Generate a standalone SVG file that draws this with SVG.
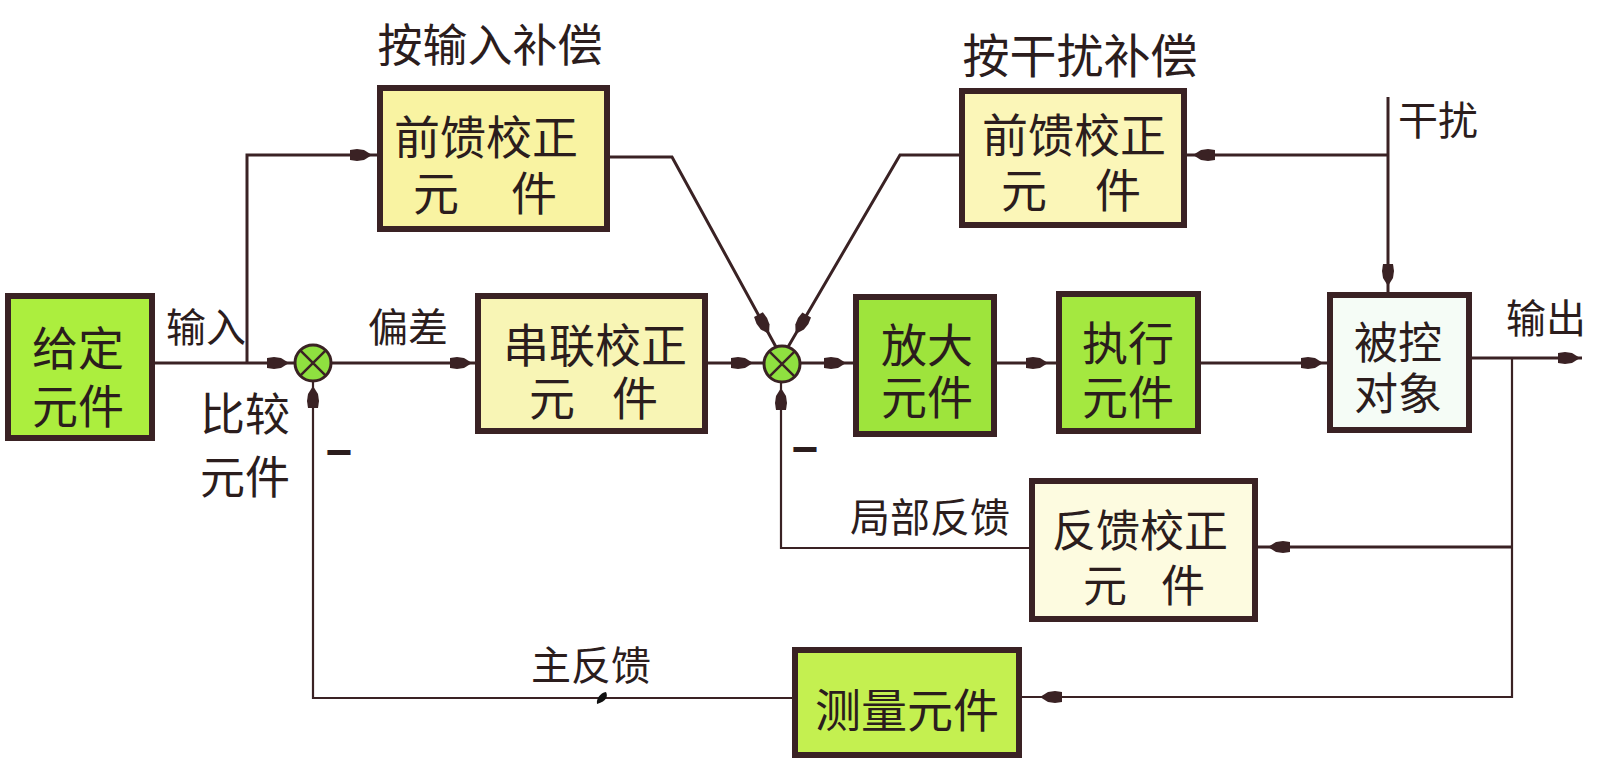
<svg xmlns="http://www.w3.org/2000/svg" xmlns:xlink="http://www.w3.org/1999/xlink" width="1600" height="770" viewBox="0 0 1600 770">
<defs>
<style>
.box{stroke:#3a2224;stroke-width:6}
.t{font-family:"Noto Sans CJK SC","Noto Sans CJK TC",sans-serif;fill:#2b1d1d}
.b{font-size:46px}
.l{font-size:40px}
.ln{fill:none;stroke:#3a2224;stroke-width:3}
.thin{fill:none;stroke:#3a2224;stroke-width:2.2}
.ah{fill:#3a2224}
.minus{font-family:"Liberation Sans",sans-serif;font-weight:bold;font-size:46px;fill:#2b1d1d}
</style>
<path id="ah" class="ah" d="M0,0 L-8,-5 L-15,-6 L-22,-5 L-22,5 L-15,6 L-8,5 Z"/>
<g id="sum">
<circle r="18" fill="#8fe040" stroke="#3a2224" stroke-width="3"/>
<path d="M-12.7,-12.7 L12.7,12.7 M12.7,-12.7 L-12.7,12.7" stroke="#3a2224" stroke-width="2.5"/>
</g>
</defs>
<rect width="1600" height="770" fill="#ffffff"/>

<g id="connectors">
<path class="ln" d="M155,363 H295"/>
<use xlink:href="#ah" transform="translate(289,363)"/>
<path class="ln" d="M247,363 V155 H377"/>
<use xlink:href="#ah" transform="translate(372,155)"/>
<path class="ln" d="M331,363 H475"/>
<use xlink:href="#ah" transform="translate(472,363)"/>
<path class="ln" d="M610,157 H672 L776,347"/>
<use xlink:href="#ah" transform="translate(769,334) rotate(61.3)"/>
<path class="ln" d="M959,155 H900 L788,347"/>
<use xlink:href="#ah" transform="translate(795.6,334) rotate(120.3)"/>
<path class="ln" d="M708,363 H764"/>
<use xlink:href="#ah" transform="translate(753,363)"/>
<path class="ln" d="M800,363 H853"/>
<use xlink:href="#ah" transform="translate(846,363)"/>
<path class="ln" d="M997,363 H1056"/>
<use xlink:href="#ah" transform="translate(1048,363)"/>
<path class="ln" d="M1201,363 H1328"/>
<use xlink:href="#ah" transform="translate(1323,363)"/>
<path class="ln" d="M1472,358 H1582"/>
<use xlink:href="#ah" transform="translate(1580,358)"/>
<path class="thin" d="M1512,358 V697 H1022"/>
<use xlink:href="#ah" transform="translate(1040,697) rotate(180)"/>
<path class="ln" d="M1512,547 H1257"/>
<use xlink:href="#ah" transform="translate(1268,547) rotate(180)"/>
<path class="thin" d="M792,698 H313 V381"/>
<use xlink:href="#ah" transform="translate(313,386) rotate(-90)"/>
<path class="thin" d="M1029,548 H781 V382"/>
<use xlink:href="#ah" transform="translate(781,388) rotate(-90)"/>
<path class="ln" d="M1388,97 V292"/>
<use xlink:href="#ah" transform="translate(1388,286) rotate(90)"/>
<path class="ln" d="M1388,155 H1187"/>
<use xlink:href="#ah" transform="translate(1193,155) rotate(180)"/>
<path d="M597,704 C596,699 600,693 606,692 C608,696 607,701 597,704 Z" fill="#111"/>
</g>

<g id="sum1"><use xlink:href="#sum" transform="translate(313,363)"/></g>
<g id="sum2"><use xlink:href="#sum" transform="translate(782,364)"/></g>

<g id="given">
<rect class="box" x="8" y="296" width="144" height="142" fill="#acee3e"/>
<text class="t b" text-anchor="middle"><tspan x="78" y="365">给定</tspan><tspan x="78" y="423">元件</tspan></text>
</g>

<g id="ff-input">
<text class="t" font-size="45" x="490" y="62" text-anchor="middle">按输入补偿</text>
<rect class="box" x="380" y="88" width="227" height="141" fill="#f9f3a2"/>
<text class="t b"><tspan x="394" y="154">前馈校正</tspan><tspan x="413" y="210">元</tspan><tspan x="511" y="210">件</tspan></text>
</g>

<g id="ff-dist">
<text class="t" font-size="47" x="1080" y="73" text-anchor="middle">按干扰补偿</text>
<rect class="box" x="962" y="91" width="222" height="134" fill="#fbf6b8"/>
<text class="t b"><tspan x="982" y="152">前馈校正</tspan><tspan x="1001" y="207">元</tspan><tspan x="1095" y="207">件</tspan></text>
</g>

<g id="series">
<rect class="box" x="478" y="296" width="227" height="135" fill="#f8f5b5"/>
<text class="t b"><tspan x="503" y="362">串联校正</tspan><tspan x="529" y="415">元</tspan><tspan x="612" y="415">件</tspan></text>
</g>

<g id="amp">
<rect class="box" x="856" y="297" width="138" height="137" fill="#9ee43c"/>
<text class="t b" text-anchor="middle"><tspan x="927" y="362">放大</tspan><tspan x="927" y="414">元件</tspan></text>
</g>

<g id="actuator">
<rect class="box" x="1059" y="294" width="139" height="137" fill="#a4e840"/>
<text class="t b" text-anchor="middle"><tspan x="1128" y="360">执行</tspan><tspan x="1128" y="414">元件</tspan></text>
</g>

<g id="plant">
<rect class="box" x="1330" y="295" width="139" height="135" fill="#f5fcf6"/>
<text class="t" font-size="44" text-anchor="middle"><tspan x="1398" y="359">被控</tspan><tspan x="1398" y="410">对象</tspan></text>
</g>

<g id="fb-corr">
<rect class="box" x="1032" y="481" width="223" height="138" fill="#fdfbe0"/>
<text class="t" font-size="44"><tspan x="1052" y="547">反馈校正</tspan><tspan x="1083" y="602">元</tspan><tspan x="1161" y="602">件</tspan></text>
</g>

<g id="measure">
<rect class="box" x="795" y="650" width="224" height="105" fill="#c4f050"/>
<text class="t b" x="907" y="727" text-anchor="middle">测量元件</text>
</g>

<g id="labels">
<text class="t l" x="206" y="342" text-anchor="middle">输入</text>
<text class="t l" x="408" y="342" text-anchor="middle">偏差</text>
<text class="t" font-size="45" text-anchor="middle"><tspan x="245" y="431">比较</tspan><tspan x="245" y="494">元件</tspan></text>
<text class="minus" x="339" y="468" text-anchor="middle">−</text>
<text class="minus" x="805" y="465" text-anchor="middle">−</text>
<text class="t l" x="930" y="532" text-anchor="middle">局部反馈</text>
<text class="t l" x="591" y="680" text-anchor="middle">主反馈</text>
<text class="t l" x="1438" y="135" text-anchor="middle">干扰</text>
<text class="t l" x="1546" y="333" text-anchor="middle">输出</text>
</g>
</svg>
